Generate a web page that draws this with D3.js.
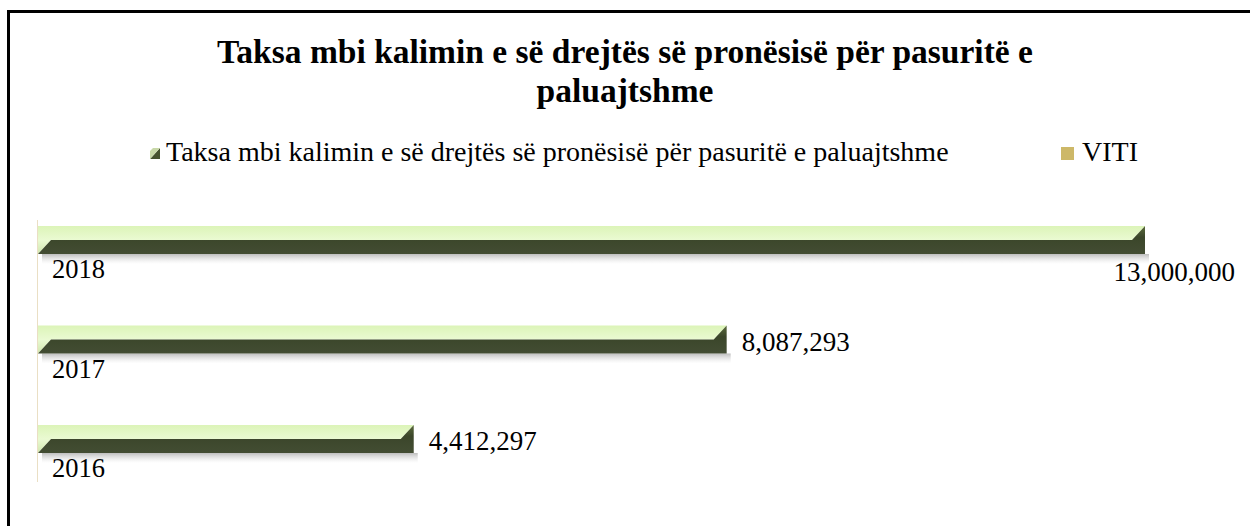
<!DOCTYPE html>
<html>
<head>
<meta charset="utf-8">
<script src="https://cdn.jsdelivr.net/npm/d3@7"></script>
<style>
  body { margin: 0; background: #fff; }
  svg { display: block; }
  text { font-family: "Liberation Serif", "DejaVu Serif", serif; fill: #000; }
</style>
</head>
<body>
<svg width="1250" height="526"></svg>
<script>
const title = ['Taksa mbi kalimin e së drejtës së pronësisë për pasuritë e', 'paluajtshme'];
const seriesNames = ['Taksa mbi kalimin e së drejtës së pronësisë për pasuritë e paluajtshme', 'VITI'];
const years = ['2018', '2017', '2016'];
const values = [13000000, 8087293, 4412297];

const svg = d3.select('svg');
const width = +svg.attr('width');
const height = +svg.attr('height');

// frame (only top and left edges show in the original)
svg.append('rect').attr('x', 7).attr('y', 10).attr('width', width - 7).attr('height', 3).attr('fill', '#000');
svg.append('rect').attr('x', 7).attr('y', 10).attr('width', 3).attr('height', height - 10).attr('fill', '#000');

const defs = svg.append('defs');
const lightGrad = defs.append('linearGradient').attr('id', 'light').attr('x1', 0).attr('y1', 0).attr('x2', 0).attr('y2', 1);
lightGrad.append('stop').attr('offset', '0%').attr('stop-color', '#dcf4b8');
lightGrad.append('stop').attr('offset', '50%').attr('stop-color', '#eafad2');
lightGrad.append('stop').attr('offset', '100%').attr('stop-color', '#d0e6ae');
const darkGrad = defs.append('linearGradient').attr('id', 'dark').attr('x1', 0).attr('y1', 0).attr('x2', 0).attr('y2', 1);
darkGrad.append('stop').attr('offset', '0%').attr('stop-color', '#5a6a3c');
darkGrad.append('stop').attr('offset', '40%').attr('stop-color', '#3b462a');
darkGrad.append('stop').attr('offset', '100%').attr('stop-color', '#434d33');
const shadowGrad = defs.append('linearGradient').attr('id', 'shadow').attr('x1', 0).attr('y1', 0).attr('x2', 0).attr('y2', 1);
shadowGrad.append('stop').attr('offset', '0%').attr('stop-color', '#888').attr('stop-opacity', 0.55);
shadowGrad.append('stop').attr('offset', '100%').attr('stop-color', '#ccc').attr('stop-opacity', 0);

// title
svg.append('g').selectAll('text').data(title).enter().append('text')
    .attr('x', width / 2)
    .attr('y', (d, i) => 63 + i * 39)
    .attr('text-anchor', 'middle')
    .style('font-size', '33.5px')
    .style('font-weight', 'bold')
    .text(d => d);

// legend
const legend = svg.append('g');
legend.append('polygon')
    .attr('points', '150,159 160,148 160,159')
    .attr('fill', '#46522f');
legend.append('polygon')
    .attr('points', '150,159 150,151 153,148 160,148')
    .attr('fill', '#c8d8a8');
legend.append('text').attr('x', 166).attr('y', 161)
    .style('font-size', '28px').text(seriesNames[0]);
legend.append('rect').attr('x', 1061).attr('y', 147).attr('width', 13).attr('height', 13)
    .attr('fill', '#cdb868');
legend.append('text').attr('x', 1082).attr('y', 161)
    .style('font-size', '28px').text(seriesNames[1]);

const data = years.map((y, i) => ({ year: y, value: values[i] }));

const xScale = d3.scaleLinear()
    .domain([0, 13000000])
    .range([38, 1145]);

const yScale = d3.scalePoint()
    .domain(years)
    .range([226, 425]);

const barH = 28;
const depth = 13;

// axis line
svg.append('line')
    .attr('x1', 37.5).attr('x2', 37.5)
    .attr('y1', 220).attr('y2', 482)
    .attr('stroke', '#eadfc4').attr('stroke-width', 1);

const bars = svg.append('g').selectAll('g').data(data).enter().append('g');

bars.append('rect')
    .attr('x', xScale(0) + 4)
    .attr('y', d => yScale(d.year) + barH)
    .attr('width', d => xScale(d.value) - xScale(0))
    .attr('height', 10)
    .attr('fill', 'url(#shadow)');

bars.append('polygon')
    .attr('points', d => {
        const x0 = xScale(0), x1 = xScale(d.value), t = yScale(d.year), m = t + barH / 2, b = t + barH;
        return [[x0, t], [x1, t], [x1 - depth, m], [x0 + depth, m], [x0, b]].join(' ');
    })
    .attr('fill', 'url(#light)');

bars.append('polygon')
    .attr('points', d => {
        const x0 = xScale(0), x1 = xScale(d.value), t = yScale(d.year), m = t + barH / 2, b = t + barH;
        return [[x0, b], [x0 + depth, m], [x1 - depth, m], [x1, t], [x1, b]].join(' ');
    })
    .attr('fill', 'url(#dark)');

// category labels
bars.append('text')
    .attr('x', 52)
    .attr('y', d => yScale(d.year) + 52)
    .style('font-size', '26.5px')
    .text(d => d.year);

// value labels
const fmt = d3.format(',');
bars.append('text')
    .style('font-size', '27px')
    .text(d => fmt(d.value))
    .each(function (d) {
        const w = this.getComputedTextLength();
        const x1 = xScale(d.value);
        const sel = d3.select(this);
        if (x1 + 15 + w > width - 12) {
            sel.attr('x', 1235).attr('text-anchor', 'end').attr('y', yScale(d.year) + 55);
        } else {
            sel.attr('x', x1 + 15).attr('y', yScale(d.year) + 25);
        }
    });
</script>
</body>
</html>
